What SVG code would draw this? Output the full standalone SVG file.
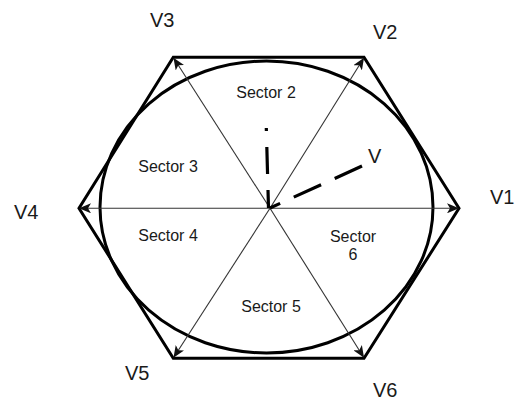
<svg xmlns="http://www.w3.org/2000/svg" width="515" height="401" viewBox="0 0 515 401">
<defs>
<style>
.lbl{font-family:"Liberation Sans",Arial,sans-serif;font-size:20px;fill:#1a1a1a}
.sec{font-family:"Liberation Sans",Arial,sans-serif;font-size:16px;fill:#1a1a1a;text-anchor:middle}
.thin{stroke:#333;stroke-width:1.1;fill:none;marker-end:url(#ah)}
.thick{stroke:#000;stroke-width:3;fill:none}
.dash{stroke:#000;stroke-width:3.2;fill:none}
</style>
<marker id="ah" viewBox="0 0 12 10" refX="11" refY="5" markerWidth="12" markerHeight="10" markerUnits="userSpaceOnUse" orient="auto">
<path d="M0,0 L12,5 L0,10 L3,5 Z" fill="#111"/>
</marker>
</defs>
<rect width="515" height="401" fill="#fff"/>
<g id="hexagon">
<polygon class="thick" points="459,208.3 364,57.3 173.3,57.3 79,208.3 173.3,358.3 364,358.3"/>
</g>
<g id="circle">
<ellipse class="thick" cx="266.5" cy="207" rx="166.5" ry="146"/>
</g>
<g id="connectors">
<line class="thin" x1="270" y1="208.3" x2="458" y2="208.3"/>
<line class="thin" x1="270" y1="208.3" x2="80" y2="208.3"/>
<line class="thin" x1="270" y1="208.3" x2="363.5" y2="58.5"/>
<line class="thin" x1="270" y1="208.3" x2="174" y2="58.5"/>
<line class="thin" x1="270" y1="208.3" x2="174" y2="357"/>
<line class="thin" x1="270" y1="208.3" x2="363.5" y2="357"/>
<line class="dash" x1="362" y1="166" x2="270" y2="208" stroke-dasharray="30 15"/>
<line class="dash" x1="266.3" y1="128" x2="268.5" y2="208" stroke-dasharray="3 16 27 16 20 100"/>
</g>
<g id="labels">
<text class="lbl" x="150" y="27.3">V3</text>
<text class="lbl" x="373" y="39.3">V2</text>
<text class="lbl" x="490" y="204">V1</text>
<text class="lbl" x="14" y="219">V4</text>
<text class="lbl" x="125" y="380">V5</text>
<text class="lbl" x="373" y="396.5">V6</text>
<text class="lbl" x="368" y="163">V</text>
</g>
<g id="sectors">
<text class="sec" x="266" y="97.5">Sector 2</text>
<text class="sec" x="168" y="172.3">Sector 3</text>
<text class="sec" x="168" y="240.7">Sector 4</text>
<text class="sec" x="271" y="311.5">Sector 5</text>
<text class="sec" x="353" y="241.5">Sector</text>
<text class="sec" x="353" y="259.5">6</text>
</g>
</svg>
